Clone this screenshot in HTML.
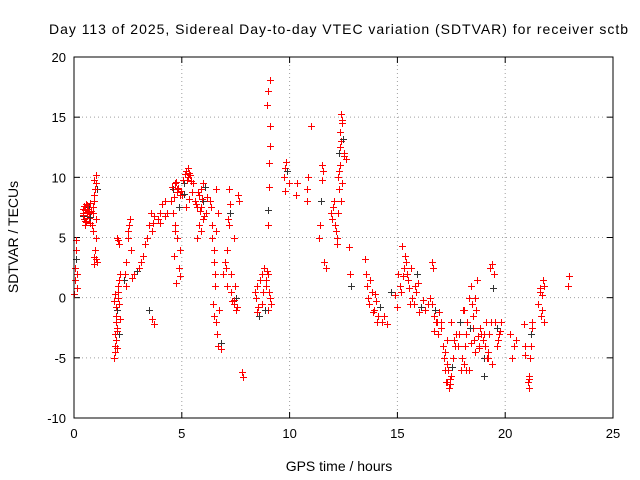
<!DOCTYPE html>
<html><head><meta charset="utf-8"><style>
html,body{margin:0;padding:0;background:#fff}
svg{display:block;font-family:"Liberation Sans",sans-serif}
</style></head><body>
<svg id="chart" width="640" height="480" viewBox="0 0 640 480">
<text x="49" y="34" font-size="14" textLength="579" lengthAdjust="spacing">Day 113 of 2025, Sidereal Day-to-day VTEC variation (SDTVAR) for receiver sctb</text>
<text x="339" y="471" font-size="14" text-anchor="middle">GPS time / hours</text>
<text x="0" y="0" font-size="14" text-anchor="middle" transform="translate(18,237) rotate(-90)">SDTVAR / TECUs</text>
<g id="grid"></g><g id="ticks"></g><g id="marks"></g>
<rect x="74" y="57" width="539" height="361" fill="none" stroke="#000" stroke-width="1"/>
</svg>
<script>
const xTicks=[0,5,10,15,20,25];
const yTicks=[-10,-5,0,5,10,15,20];
const times=[0.02,0.05,0.05,0.08,0.1,0.1,0.12,0.15,
0.4,0.45,0.5,0.55,0.6,0.65,0.7,0.75,0.5,0.6,0.4,0.7,
0.85,0.9,0.95,1.0,1.0,1.05,0.9,0.95,1.0,1.05,0.95,1.0,
1.85,1.9,1.95,2.0,2.0,2.05,2.1,1.9,1.95,2.0,2.05,2.1,1.85,2.0,2.15,
2.3,2.35,2.4,2.5,2.55,2.6,2.65,2.7,2.5,2.4,
2.8,2.9,3.0,3.1,3.2,3.3,
3.4,3.5,3.55,3.6,3.65,3.7,3.5,3.6,3.7,
3.9,4.0,4.1,4.2,4.3,4.0,4.2,
4.5,4.6,4.7,4.8,4.9,4.6,4.7,4.8,4.9,4.75,4.85,
5.0,5.1,5.2,5.3,5.4,5.5,5.2,5.35,
5.6,5.7,5.8,5.9,6.0,6.1,5.8,5.9,6.0,
6.3,6.4,6.5,6.55,6.6,6.7,6.8,6.9,6.5,6.6,6.7,6.45,
7.0,7.1,7.2,7.3,7.4,7.5,7.6,7.2,7.3,7.5,7.1,7.4,
7.8,7.85,
8.4,8.5,8.6,8.7,8.8,8.9,9.0,9.1,8.5,8.7,8.9,9.0,
9.0,9.0,9.05,9.05,9.1,9.1,8.95,9.0,9.1,
9.75,9.8,9.85,9.9,9.95,9.8,
10.3,10.35,10.8,10.85,10.8,11.0,
11.35,11.4,11.45,11.5,11.5,11.55,11.6,11.7,
11.9,12.0,12.1,12.2,12.25,12.3,12.35,12.4,12.45,12.5,12.3,12.2,12.4,
12.6,12.75,12.8,12.85,
13.5,13.6,13.7,13.8,13.9,14.0,14.1,14.3,14.4,14.5,
14.7,14.9,15.0,15.1,15.2,15.3,15.4,15.5,15.6,15.7,15.8,15.9,16.0,16.2,16.3,16.5,
16.6,16.65,16.7,16.8,16.9,17.0,16.75,
17.1,17.2,17.3,17.4,17.5,17.6,17.7,17.3,17.5,
17.8,17.9,18.0,18.1,18.2,18.3,18.4,18.5,18.6,18.7,18.8,18.9,19.0,19.1,19.2,19.3,19.4,19.5,19.6,19.7,19.8,18.2,18.5,19.0,19.4,
20.2,20.3,20.4,20.5,
20.85,20.9,20.9,
21.1,21.15,21.2,21.25,21.1,
21.5,21.6,21.7,21.75,21.8,21.7,
22.9,22.95,
0.42,0.48,0.52,0.58,0.62,0.68,0.72,0.78,0.44,0.56,0.66,0.74,
0.88,0.92,0.98,1.02,0.93,0.97,
1.88,1.92,1.97,2.02,2.07,2.12,1.93,1.98,2.03,2.08,
4.55,4.65,4.72,4.78,4.82,4.88,4.95,4.62,4.68,4.92,
5.05,5.15,5.25,5.32,5.42,5.48,5.12,5.28,
5.65,5.75,5.85,5.95,6.05,6.15,5.72,5.88,5.98,6.08,
6.35,6.42,6.52,6.62,6.72,6.82,6.48,6.58,
7.05,7.15,7.25,7.35,7.45,7.55,7.65,7.22,7.42,
8.45,8.55,8.65,8.75,8.85,8.95,9.05,9.12,
11.95,12.05,12.15,12.25,12.32,12.38,12.42,12.48,12.52,12.28,12.36,12.44,
13.55,13.65,13.75,13.85,13.95,14.05,14.2,
15.05,15.15,15.25,15.35,15.45,15.55,15.65,15.75,15.85,15.95,16.1,16.4,
16.62,16.72,16.82,16.92,17.02,
17.15,17.25,17.35,17.45,17.55,17.65,17.22,17.42,17.62,17.32,
17.85,17.95,18.05,18.15,18.25,18.35,18.45,18.55,18.65,18.75,18.85,18.95,19.05,19.15,19.25,19.35,19.45,19.55,19.65,19.75,
18.1,18.3,18.4,18.6,18.8,19.0,19.2,19.6,
21.12,21.18,21.22,21.08,21.6,21.65,21.78];
const values=[0.3,1.5,2.5,3.2,4,4.8,0.8,2,
7,6.5,7.3,7.8,6.8,7.2,7.5,6.2,6,7,7.4,7.1,
6,7.5,8.5,9.5,10.2,9,5.5,2.8,3.2,3,8,5,
-5,-4,-3.5,-2.5,-1,0,-0.5,0.3,-2,-4.2,1,4.5,-0.3,5,2,
1.5,2,3,5,6,6.5,4,1.6,5.5,1,
2,2.2,2.5,3,3.5,4.5,
5,6,7,5.5,6.2,6.8,-1,-1.8,-2.2,
6.5,7,7.8,8,7,6.2,6.8,
8,9,9.5,9,8.5,7,6,5,4,1.2,2.5,
8.5,9.5,10.5,10.8,10.2,9.5,7.5,8.2,
8,7.5,8.5,9,8,7,6,5.5,9.5,
8,6,3,1,-2,-4,-3.8,2,4,9,7,-0.5,
3,4,6,0.5,-0.5,0,8.5,9,2,-1,1,5,
-6.2,-6.6,
0.5,1,-1.5,2,2.5,1,-1,0,-1.2,-0.5,1.5,2,
6,7.3,9.2,11.2,12.6,14.3,16,17.2,18.1,
10,10.8,11.3,10.5,9.5,8.9,
8.5,9.5,9,10,8,14.3,
5,6,8,9.8,11,10.5,3,2.5,
7,7.5,6,4.5,10,12,13.8,15.3,14.5,12,9,5,8,
11.5,4.2,2,1,
3.2,1,-0.5,0.5,-1,-0.3,-1.5,-2,-1.5,-2.2,
0.5,0.2,-0.8,1,4.3,2.5,3,1.5,-0.5,0,1,2,-1.2,-0.2,-1,0,
3,2.5,-1.5,-2,-3,-2.5,-1,
-4,-6,-7,-7.5,-6.5,-5,-3,-3.5,-2,
-4,-2,-5,-1,-3,0,1,-1.5,0,1.5,-4,-3,-5,-2,-4.5,2.5,2.8,2,-4,-3,-2,-6,-2.5,-6.5,-5.5,
-3,-5,-4,-3.5,
-2.2,-4,-4.8,
-7.5,-5,-3,-2,-6.5,
-0.5,0.5,-1,1.5,-2,0.2,
1,1.8,
6.8,7.6,6.4,7.1,7.7,6.6,7.9,7.2,6.9,6.3,7.4,6.7,
7,9.8,4,6.5,3.4,9,
-3,-4.5,-1.5,0.5,-3,-1.8,-0.8,-2.8,4.8,1.5,
9.2,8.4,9.6,8.8,9.1,7.5,8.9,3.5,5.5,1.8,
9.8,10.3,9.8,10.4,9.7,8.8,8.6,10,
7.8,8.8,7.2,8.2,6.8,8.4,5,7.5,6.5,9.2,
7.5,5,2,-3,-1,-4.3,-1.5,5.5,
2.5,6.5,7,-0.3,1,-0.8,8,7.8,-0.2,
0,-0.8,1.5,0.5,-1,2.2,0.5,-0.5,
6.5,8,5.5,7,11,13,14.8,13.2,11.8,10.5,12.5,9.5,
2,0,1.5,-1.2,0.3,-2,-0.8,
2,0.5,1.8,3.5,2,0.8,2.5,-0.5,0.5,1.2,-0.8,-0.5,
-0.5,-2.8,-2,-1.2,-2,
-5,-7,-6,-7.2,-5.8,-4,-4.5,-6.8,-3.5,-5.5,
-3,-6,-1,-4,-2,-2.5,-0.5,-3.5,-1,-3.2,-2.5,-3.5,-4,-5,-3,-2,0.8,-2,-3.5,-2.8,
-5.5,-6,-3.8,-4.5,-4.2,-3,-5,-2.5,
-6.8,-4,-2.5,-7,0.8,-1.5,1];
const NS="http://www.w3.org/2000/svg";
const X0=74,X1=613,Y0=418,Y1=57;
function sx(t){return X0+(t-0)/(25-0)*(X1-X0);}
function sy(v){return Y0-(v-(-10))/(20-(-10))*(Y0-Y1);}
function mk(tag,attrs,parent){const e=document.createElementNS(NS,tag);for(const k in attrs)e.setAttribute(k,attrs[k]);parent.appendChild(e);return e;}
const grid=document.getElementById('grid'),ticks=document.getElementById('ticks'),marks=document.getElementById('marks');
xTicks.forEach(t=>{const x=sx(t);
 if(t>0&&t<25){const g=mk('line',{x1:x,x2:x,y1:Y0,y2:Y1,stroke:'#a0a0a0','stroke-dasharray':'1,3'},grid);
 
 }
 mk('line',{x1:x,x2:x,y1:Y0,y2:Y0-6,stroke:'#000'},ticks);
 mk('line',{x1:x,x2:x,y1:Y1,y2:Y1+6,stroke:'#000'},ticks);
 const l=mk('text',{x:x,y:Y0+20,'font-size':13,'text-anchor':'middle'},ticks);l.textContent=t;
 
 });
yTicks.forEach(v=>{const y=sy(v);
 if(v>-10&&v<20){const g=mk('line',{x1:X0,x2:X1,y1:y,y2:y,stroke:'#a0a0a0','stroke-dasharray':'1,3'},grid);
 
 }
 mk('line',{x1:X0,x2:X0+6,y1:y,y2:y,stroke:'#000'},ticks);
 mk('line',{x1:X1,x2:X1-6,y1:y,y2:y,stroke:'#000'},ticks);
 const l=mk('text',{x:X0-8,y:y+5,'font-size':13,'text-anchor':'end'},ticks);l.textContent=v;
 
 });
times.forEach((t,i)=>{const x=Math.round(sx(t))+0.5,y=Math.round(sy(values[i]))+0.5;
 const p=mk('path',{d:`M${x-3.5},${y}H${x+3.5}M${x},${y-3.5}V${y+3.5}`,stroke:(i%11==3)?'#333':'#f00','stroke-width':1,fill:'none'},marks);
 
 });
</script>
</body></html>
